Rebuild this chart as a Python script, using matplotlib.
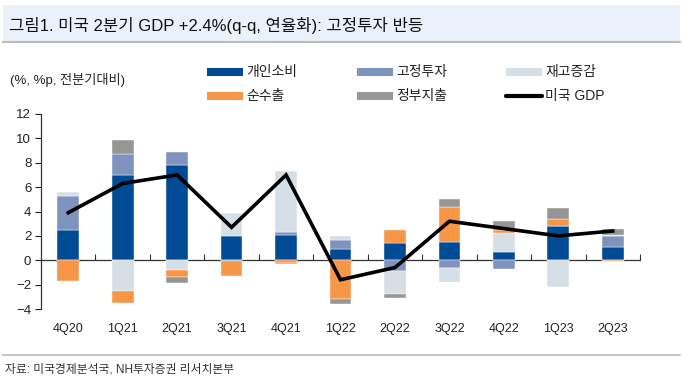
import matplotlib
matplotlib.use("Agg")
import matplotlib.pyplot as plt
from matplotlib.patches import Rectangle
from matplotlib.lines import Line2D
import numpy as np

plt.rcParams['font.family'] = ['Liberation Sans', 'Noto Sans CJK KR']

quarters = ['4Q20', '1Q21', '2Q21', '3Q21', '4Q21', '1Q22', '2Q22', '3Q22', '4Q22', '1Q23', '2Q23']
pce   = [2.5, 7.0, 7.8, 2.0, 2.1, 0.9, 1.4, 1.5, 0.7, 2.8, 1.1]
fixed = [2.8, 1.7, 1.1, -0.1, 0.2, 0.8, -0.9, -0.6, -0.7, 0.0, 0.9]
inv   = [0.3, -2.5, -0.8, 1.9, 5.0, 0.3, -1.9, -1.2, 1.5, -2.2, 0.1]
nx    = [-1.7, -1.0, -0.6, -1.2, -0.2, -3.2, 1.1, 2.9, 0.3, 0.6, -0.1]
gov   = [0.0, 1.2, -0.5, 0.0, -0.1, -0.4, -0.3, 0.6, 0.7, 0.85, 0.45]
gdp   = [3.9, 6.3, 7.0, 2.7, 7.0, -1.6, -0.6, 3.2, 2.6, 2.0, 2.4]

names  = ['개인소비', '고정투자', '재고증감', '순수출', '정부지출']
colors = ['#004B93', '#7F93BF', '#D6DEE6', '#F79646', '#969696']
series = [pce, fixed, inv, nx, gov]

fig = plt.figure(figsize=(6.83, 3.82), dpi=100)
ax = fig.add_axes([41/683, 1-309/382, 599/683, 195/382])

x = np.arange(len(quarters))
pos = np.zeros(len(x)); neg = np.zeros(len(x))
for vals, c in zip(series, colors):
    v = np.array(vals, dtype=float)
    bottom = np.where(v >= 0, pos, neg)
    ax.bar(x, v, 0.4, bottom=bottom, color=c, edgecolor='white', linewidth=0.3, zorder=2)
    pos += np.where(v >= 0, v, 0); neg += np.where(v < 0, v, 0)

ax.plot(x, gdp, color='black', lw=2.6, zorder=4, solid_joinstyle='miter')

ax.set_xlim(-0.5, len(x)-0.5)
ax.set_ylim(-4, 12)
ax.set_yticks(range(-4, 13, 2))
ax.tick_params(axis='y', direction='out', length=4, labelsize=9.5, colors='#222222', pad=3)
ax.set_xticks(x, quarters)
ax.tick_params(axis='x', length=0, labelsize=9, pad=10, colors='#222222')
for s in ['top', 'right', 'bottom']:
    ax.spines[s].set_visible(False)
ax.spines['left'].set_color('#333333')
ax.spines['left'].set_linewidth(0.9)

zero = ax.secondary_xaxis(0.25)
zero.set_xticks(np.arange(0.5, len(x), 1.0))
zero.tick_params(direction='in', length=4, labelbottom=False, color='#333333')
zero.spines['bottom'].set_color('#333333')
zero.spines['bottom'].set_linewidth(0.9)

# header band
fig.patches.append(Rectangle((3/683, 1-41/382), 677/683, 36/382, transform=fig.transFigure,
                             facecolor='#EAF1FA', edgecolor='none', zorder=0))
fig.add_artist(Line2D([3/683, 680/683], [1-42/382]*2, color='#BBBBBB', lw=1.5))
fig.text(9/683, 1-26/382, '그림1. 미국 2분기 GDP +2.4%(q-q, 연율화): 고정투자 반등',
         fontsize=12, va='center', ha='left', color='#111111')

fig.text(10/683, 1-80/382, '(%, %p, 전분기대비)', fontsize=9.5, va='center', color='#222222')

# legend
leg_items = [(207, 72, '개인소비', colors[0]), (357, 72, '고정투자', colors[1]), (506, 72, '재고증감', colors[2]),
             (207, 96, '순수출', colors[3]), (357, 96, '정부지출', colors[4])]
for lx, ly, t, c in leg_items:
    fig.patches.append(Rectangle((lx/683, 1-(ly+4)/382), 36/683, 8/382, transform=fig.transFigure,
                                 facecolor=c, edgecolor='none'))
    fig.text((lx+39)/683, 1-ly/382, t, fontsize=10, va='center', color='#222222')
fig.add_artist(Line2D([506/683, 542/683], [1-96/382]*2, color='black', lw=3, solid_capstyle='round'))
fig.text(545/683, 1-96/382, '미국 GDP', fontsize=10, va='center', color='#222222')

# footer
fig.add_artist(Line2D([3/683, 680/683], [1-355/382]*2, color='#BBBBBB', lw=1.2))
fig.text(5/683, 1-370/382, '자료: 미국경제분석국, NH투자증권 리서치본부', fontsize=8.5, va='center', color='#333333')

fig.savefig('out.png', dpi=100)
